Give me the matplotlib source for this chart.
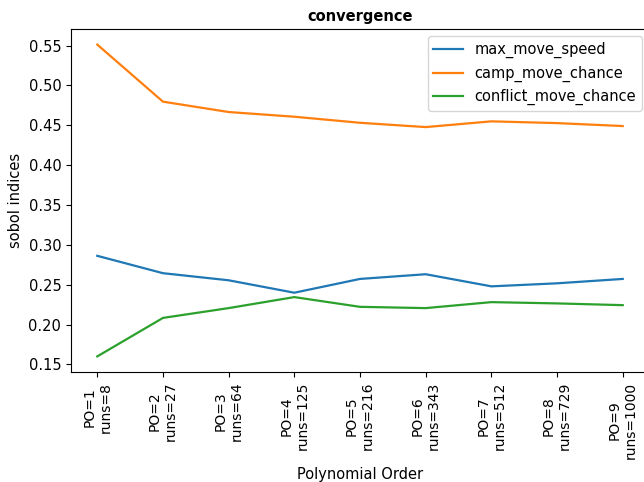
import numpy as np
import matplotlib
matplotlib.use("Agg")
import matplotlib.pyplot as plt

po = [1, 2, 3, 4, 5, 6, 7, 8, 9]
runs = [8, 27, 64, 125, 216, 343, 512, 729, 1000]
xlabels = ["PO=%d\nruns=%d" % (p, r) for p, r in zip(po, runs)]

max_move_speed = [0.2863, 0.2645, 0.2556, 0.2400, 0.2573, 0.2632, 0.2480, 0.2518, 0.2573]
camp_move_chance = [0.5513, 0.4797, 0.4667, 0.4608, 0.4532, 0.4478, 0.4550, 0.4528, 0.4491]
conflict_move_chance = [0.1601, 0.2084, 0.2207, 0.2345, 0.2223, 0.2207, 0.2282, 0.2266, 0.2244]

plt.rcParams['font.size'] = 10.5
plt.rcParams['xtick.labelsize'] = 10
plt.rcParams['lines.linewidth'] = 1.6

fig = plt.figure(figsize=(6.44, 4.82), dpi=100)
# the reference is cut off on the right, so the axes run past the edge
ax = fig.add_axes([71 / 644, 1 - 372 / 482, 578 / 644, 343 / 482])

ax.plot(xlabels, max_move_speed, label="max_move_speed")
ax.plot(xlabels, camp_move_chance, label="camp_move_chance")
ax.plot(xlabels, conflict_move_chance, label="conflict_move_chance")

ax.set_title("convergence", fontweight="bold", fontsize=10.5)
ax.set_xlabel("Polynomial Order", labelpad=6)
ax.set_ylabel("sobol indices")
plt.setp(ax.get_xticklabels(), rotation=90)
ax.legend(loc="upper right")

fig.savefig("out.png")
